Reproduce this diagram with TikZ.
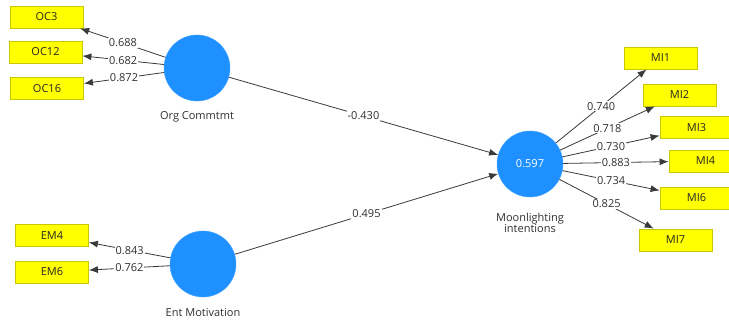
\documentclass[tikz,border=0pt]{standalone}
\usepackage{fontspec}
\setmainfont{Open Sans}
\usetikzlibrary{arrows.meta}
\definecolor{latblue}{HTML}{1E90FF}
\definecolor{indyel}{HTML}{FFFF00}
\definecolor{indbord}{HTML}{C8C800}
\definecolor{linegray}{HTML}{3A3A3A}
\definecolor{txtgray}{HTML}{303030}
\tikzset{
  latent/.style={circle, fill=latblue, draw=latblue!85!white, minimum size=66pt, inner sep=0pt, text=white, font=\fontsize{11}{13}\selectfont},
  indic/.style={rectangle, fill=indyel, draw=indbord, line width=0.8pt, minimum width=73pt, minimum height=22pt, inner sep=0pt, font=\fontsize{11}{13}\selectfont, text=black!85},
  conn/.style={draw=linegray, line width=0.8pt, -{Latex[length=9pt,width=7pt]}},
  wlab/.style={fill=white, inner sep=1pt, text=txtgray, font=\fontsize{11}{13}\selectfont},
  latcaption/.style={text=txtgray, font=\fontsize{11}{13}\selectfont, align=center}
}
\begin{document}
\begin{tikzpicture}[x=1pt,y=-1pt]
\useasboundingbox (0,0) rectangle (729,324);
\clip (0,0) rectangle (729,324);
\fill[white] (0,0) rectangle (729,324);
% latent variables
\node[latent] (org) at (197,68) {};
\node[latent] (ent) at (203,264) {};
\node[latent] (moon) at (530,164) {0.597};
\node[latcaption] (orgl) at (197,117) {Org Commtmt};
\node[latcaption] (entl) at (203,313) {Ent Motivation};
\node[latcaption] (moonl) at (530,223) {Moonlighting\\[-2pt]intentions};
% indicators
\node[indic] (oc3) at (46.5,17) {OC3};
\node[indic] (oc12) at (45.5,52) {OC12};
\node[indic] (oc16) at (47,88.5) {OC16};
\node[indic] (em4) at (52,235.5) {EM4};
\node[indic] (em6) at (52,272) {EM6};
\node[indic] (mi1) at (660.5,58) {MI1};
\node[indic] (mi2) at (679.5,95) {MI2};
\node[indic] (mi3) at (696.5,127.5) {MI3};
\node[indic] (mi4) at (705.5,161) {MI4};
\node[indic] (mi6) at (696.5,198) {MI6};
\node[indic] (mi7) at (675.5,240) {MI7};
% loadings
\draw[conn] (org) -- node[wlab] {0.688} (oc3);
\draw[conn] (org) -- node[wlab] {0.682} (oc12);
\draw[conn] (org) -- node[wlab] {0.872} (oc16);
\draw[conn] (ent) -- node[wlab] {0.843} (em4);
\draw[conn] (ent) -- node[wlab] {0.762} (em6);
\draw[conn] (moon) -- node[wlab] {0.740} (mi1);
\draw[conn] (moon) -- node[wlab] {0.718} (mi2);
\draw[conn] (moon) -- node[wlab] {0.730} (mi3);
\draw[conn] (moon) -- node[wlab] {0.883} (mi4);
\draw[conn] (moon) -- node[wlab] {0.734} (mi6);
\draw[conn] (moon) -- node[wlab] {0.825} (mi7);
% paths
\draw[conn] (org) -- node[wlab] {-0.430} (moon);
\draw[conn] (ent) -- node[wlab] {0.495} (moon);
\end{tikzpicture}
\end{document}
